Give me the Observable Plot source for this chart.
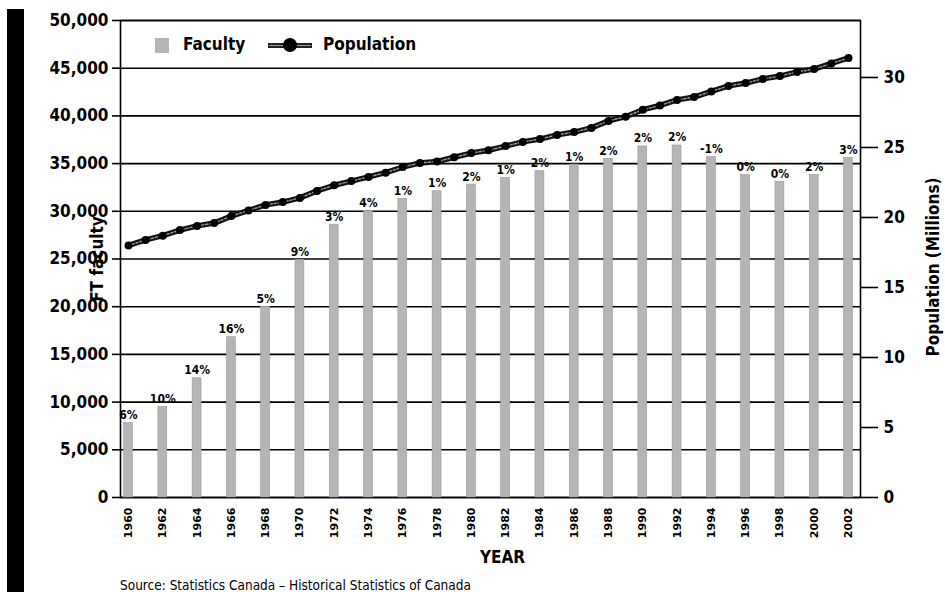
<!DOCTYPE html>
<html><head><meta charset="utf-8">
<script src="https://cdn.jsdelivr.net/npm/d3@7"></script>
<script src="https://cdn.jsdelivr.net/npm/@observablehq/plot@0.6"></script>
<style>
body{margin:0;background:#fff;overflow:hidden;width:945px;height:592px;position:relative;font-family:"DejaVu Sans Condensed","DejaVu Sans",sans-serif;font-stretch:condensed;color:#000;}
#blackbar{position:absolute;left:7px;top:9px;width:17px;height:583px;background:#000;}
#chart svg{display:block;}
#caption{position:absolute;left:120px;top:578px;font-size:13.5px;line-height:14px;white-space:nowrap;}
.leg{position:absolute;font-weight:bold;font-size:17px;line-height:17px;}
</style></head><body>
<div id="chart"></div>
<div id="blackbar"></div>
<div class="leg" style="left:155px;top:38px;width:14px;height:15px;background:#b5b5b5;"></div>
<div class="leg" style="left:183px;top:36px;">Faculty</div>
<div class="leg" style="left:268px;top:43px;width:44px;height:5px;background:#222;"></div>
<div class="leg" style="left:269px;top:45px;width:42px;height:1px;background:#999;"></div>
<div class="leg" style="left:283px;top:38px;width:14px;height:14px;border-radius:50%;background:#000;"></div>
<div class="leg" style="left:323px;top:36px;">Population</div>
<div id="caption">Source: Statistics Canada – Historical Statistics of Canada</div>
<script>
const facultyYears = [1960,1962,1964,1966,1968,1970,1972,1974,1976,1978,1980,1982,1984,1986,1988,1990,1992,1994,1996,1998,2000,2002];
const facultyValues = [7800,9500,12500,16800,20000,24900,28600,30000,31300,32100,32800,33500,34200,34900,35500,36800,36900,35700,33800,33100,33800,35600];
const growthLabels = ["6%","10%","14%","16%","5%","9%","3%","4%","1%","1%","2%","1%","2%","1%","2%","2%","2%","-1%","0%","0%","2%","3%"];
const populationYears = [1960,1961,1962,1963,1964,1965,1966,1967,1968,1969,1970,1971,1972,1973,1974,1975,1976,1977,1978,1979,1980,1981,1982,1983,1984,1985,1986,1987,1988,1989,1990,1991,1992,1993,1994,1995,1996,1997,1998,1999,2000,2001,2002];
const populationValues = [18.0,18.4,18.7,19.1,19.4,19.6,20.1,20.5,20.9,21.1,21.4,21.9,22.3,22.6,22.9,23.2,23.6,23.9,24.0,24.3,24.6,24.8,25.1,25.4,25.6,25.9,26.1,26.4,26.9,27.2,27.7,28.0,28.4,28.6,29.0,29.4,29.6,29.9,30.1,30.4,30.6,31.0,31.4];
const leftTicks = [0,5000,10000,15000,20000,25000,30000,35000,40000,45000,50000];
const rightTicks = [0,5,10,15,20,25,30];
const rightMax = 34.07; // right-axis value at top of the left scale (50,000)

const k = 50000 / rightMax;
const faculty = facultyYears.map((year, i) => ({year, value: facultyValues[i], label: growthLabels[i]}));
const population = populationYears.map((year, i) => ({year, p: populationValues[i] * k}));
const mainFont = '"DejaVu Sans Condensed","DejaVu Sans",sans-serif';

const chart = Plot.plot({
  width: 945,
  height: 570,
  marginLeft: 120,
  marginRight: 85,
  marginTop: 20,
  marginBottom: 73,
  style: {fontFamily: mainFont, fontStretch: "condensed", fontWeight: "bold", fontSize: "17px", color: "#000", background: "#fff"},
  x: {domain: [1959.533, 2002.7]},
  y: {domain: [0, 50000]},
  marks: [
    Plot.ruleY(leftTicks, {stroke: "#000", strokeWidth: 1.6}),
    Plot.frame({stroke: "#000", strokeWidth: 1.6}),
    Plot.rectY(faculty, {x1: d => d.year - 0.26, x2: d => d.year + 0.26, y: "value", fill: "#b5b5b5", stroke: "#9a9a9a", strokeWidth: 0.6}),
    Plot.text(faculty, {x: "year", y: "value", text: "label", dy: -4, lineAnchor: "bottom", fontSize: 12, fontWeight: "bold"}),
    Plot.line(population, {x: "year", y: "p", stroke: "#111", strokeWidth: 5.5}),
    Plot.line(population, {x: "year", y: "p", stroke: "#999", strokeWidth: 1.4, strokeDasharray: "2,2"}),
    Plot.dot(population, {x: "year", y: "p", r: 4, fill: "#000"}),
    Plot.axisY({ticks: leftTicks, tickFormat: d3.format(","), tickSize: 8, tickPadding: 4, strokeWidth: 1.6, label: null, fontSize: 17}),
    Plot.axisY({anchor: "right", ticks: rightTicks.map(d => d * k), tickFormat: d => String(Math.round(d / k)), tickSize: 17, tickPadding: 6, strokeWidth: 1.6, label: null, fontSize: 17}),
    Plot.axisX({ticks: facultyYears, tickFormat: d => String(d), tickRotate: -90, tickSize: 0, tickPadding: 10, label: null, fontSize: 11}),
    Plot.text(["FT faculty"], {frameAnchor: "left", textAnchor: "middle", lineAnchor: "middle", rotate: -90, dx: -23, text: d => d, fontSize: 17}),
    Plot.text(["Population (Millions)"], {frameAnchor: "right", textAnchor: "middle", lineAnchor: "middle", rotate: -90, dx: 73, dy: 8, text: d => d, fontSize: 17}),
    Plot.text(["YEAR"], {frameAnchor: "bottom", textAnchor: "middle", lineAnchor: "middle", dy: 60, dx: 12, text: d => d, fontSize: 17})
  ]
});
d3.select(chart).selectAll('g[aria-label="x-axis tick label"] text')
  .style("font-family", '"DejaVu Sans",sans-serif')
  .style("font-stretch", "normal")
  .style("font-weight", "bold")
  .style("font-size", "11px");
document.getElementById("chart").appendChild(chart);
</script>
</body></html>
